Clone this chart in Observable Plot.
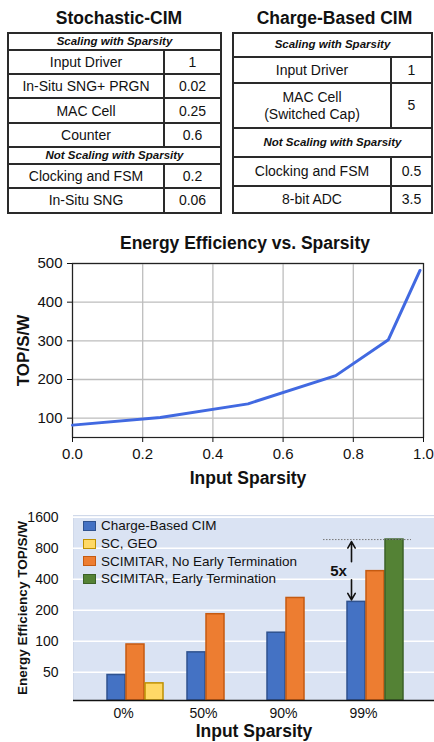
<!DOCTYPE html>
<html><head><meta charset="utf-8">
<script src="https://cdn.jsdelivr.net/npm/d3@7"></script>
<script src="https://cdn.jsdelivr.net/npm/@observablehq/plot@0.6"></script>
<style>
body{margin:0;background:#fff;font-family:"Liberation Sans",Arial,sans-serif;color:#111}
#page{position:relative;width:434px;height:742px;overflow:hidden;background:#fff}
.ttl{position:absolute;font-weight:bold;font-size:17.5px;transform:translate(-50%,-50%);white-space:nowrap}
.tbl{position:absolute;display:grid;background:#2a2a2a;padding:2px;gap:2px;box-sizing:border-box}
.tbl div{background:#fff;display:flex;align-items:center;justify-content:center;text-align:center;font-size:14px;line-height:1.15;white-space:pre-line}
.tbl div.h{grid-column:1 / span 2;font-weight:bold;font-style:italic;font-size:11.5px}
.chart{position:absolute;left:0}
.chart svg{overflow:visible}
[aria-label="x-axis label"] text,[aria-label="y-axis label"] text{font-weight:bold}
.lc [aria-label="x-axis label"] text{font-size:17.5px}
.lc [aria-label="y-axis label"] text{font-size:17px}
.bc [aria-label="x-axis label"] text{font-size:17.5px}
.bc [aria-label="y-axis label"] text{font-size:13.5px}
#legend{position:absolute;left:83px;top:517px;font-size:13.5px}
#legend .row{display:flex;align-items:center;height:17.7px;white-space:nowrap}
#legend .sw{width:11px;height:8px;border:1.5px solid;margin-right:5px}
</style></head>
<body><div id="page"></div>
<script>
// ---- Tables ----
const stochScaling = [["Input Driver","1"],["In-Situ SNG+ PRGN","0.02"],["MAC Cell","0.25"],["Counter","0.6"]];
const stochFixed = [["Clocking and FSM","0.2"],["In-Situ SNG","0.06"]];
const chargeScaling = [["Input Driver","1"],["MAC Cell\n(Switched Cap)","5"]];
const chargeFixed = [["Clocking and FSM","0.5"],["8-bit ADC","3.5"]];
const scalingHeader = "Scaling with Sparsity";
const fixedHeader = "Not Scaling with Sparsity";

// ---- Line chart ----
const sparsity = [0, 0.25, 0.5, 0.75, 0.9, 0.99];
const topsPerW = [82, 102, 137, 210, 303, 482];
const lineXTicks = [0, 0.2, 0.4, 0.6, 0.8, 1.0];
const lineYTicks = [100, 200, 300, 400, 500];

// ---- Bar chart ----
const categories = ["0%", "50%", "90%", "99%"];
const chargeBased = [47, 78, 121, 241];
const scimitarNoET = [93, 183, 263, 479];
const scGeoCats = ["0%"];
const scGeo = [39];
const scimitarETCats = ["99%"];
const scimitarET = [970];
const barYTicks = [50, 100, 200, 400, 800, 1600];
const seriesNames = ["Charge-Based CIM", "SC, GEO", "SCIMITAR, No Early Termination", "SCIMITAR, Early Termination"];
const seriesFill = ["#4472c4", "#ffd966", "#ed7d31", "#548235"];
const seriesStroke = ["#2f528f", "#bf9000", "#c55a11", "#3b6127"];
const legendOrder = [0, 1, 2, 3];
const ratioLabel = "5x";

const page = document.getElementById("page");
function el(tag, cls, txt){const e=document.createElement(tag); if(cls) e.className=cls; if(txt!=null) e.textContent=txt; return e;}

function makeTable(left, top, width, cols, rows, scaling, fixed){
  const t = el("div","tbl");
  t.style.left = left+"px"; t.style.top = top+"px"; t.style.width = width+"px";
  t.style.gridTemplateColumns = cols;
  t.style.gridTemplateRows = rows;
  t.appendChild(el("div","h",scalingHeader));
  scaling.forEach(([a,b])=>{t.appendChild(el("div","",a)); t.appendChild(el("div","",b));});
  t.appendChild(el("div","h",fixedHeader));
  fixed.forEach(([a,b])=>{t.appendChild(el("div","",a)); t.appendChild(el("div","",b));});
  page.appendChild(t);
}
function title(txt, x, y){const d=el("div","ttl",txt); d.style.left=x+"px"; d.style.top=y+"px"; page.appendChild(d);}

title("Stochastic-CIM", 119, 17.5);
title("Charge-Based CIM", 334.5, 17.5);
makeTable(7, 32, 215, "154px 1fr", "14.7px 22.4px 22.4px 22.4px 22.4px 14.7px 22.4px 22.4px", stochScaling, stochFixed);
makeTable(232, 32, 201, "156px 1fr", "22px 24px 43px 27px 27px 25px", chargeScaling, chargeFixed);

title("Energy Efficiency vs. Sparsity", 245, 243);

const font = "Liberation Sans, Arial, sans-serif";
const lineData = sparsity.map((s,i)=>({s, v: topsPerW[i]}));
const lc = Plot.plot({
  width:434, height:240, marginTop:13, marginBottom:53, marginLeft:72, marginRight:11,
  style:{fontFamily:font, fontSize:"15px", color:"#111", background:"transparent"},
  x:{domain:[0,1], label:"Input Sparsity"},
  y:{domain:[50,500], label:"TOP/S/W"},
  marks:[
    Plot.gridX(lineXTicks,{stroke:"#bdbdbd", strokeOpacity:1, strokeWidth:1.3}),
    Plot.gridY(lineYTicks,{stroke:"#bdbdbd", strokeOpacity:1, strokeWidth:1.3}),
    Plot.frame({stroke:"#222", strokeWidth:1.2}),
    Plot.axisX(lineXTicks,{tickSize:5, tickPadding:6, tickFormat:d3.format(".1f"), label:"Input Sparsity", labelAnchor:"center", labelArrow:"none", labelOffset:46}),
    Plot.axisY(lineYTicks,{tickSize:5, tickPadding:5, tickFormat:d=>String(d), label:"TOP/S/W", labelAnchor:"center", labelArrow:"none", labelOffset:56}),
    Plot.line(lineData,{x:"s", y:"v", stroke:"#4169e1", strokeWidth:3})
  ]
});
const lw = el("div","chart lc"); lw.style.top="250px"; lw.appendChild(lc); page.appendChild(lw);

// bar chart
const yDomain = [26.6, 1661];
const blueData = categories.map((c,i)=>({c, v: chargeBased[i]}));
const orangeData = categories.map((c,i)=>({c, v: scimitarNoET[i]}));
const yellowData = scGeoCats.map((c,i)=>({c, v: scGeo[i]}));
const greenData = scimitarETCats.map((c,i)=>({c, v: scimitarET[i]}));
const lastBlue = blueData.find(d=>d.c==="99%").v;
const lastGreen = greenData[0].v;
const mid = Math.sqrt(lastBlue*lastGreen);
const barOpts = (i, dx)=>({x:"c", y1:yDomain[0], y2:"v", fill:seriesFill[i], stroke:seriesStroke[i], strokeWidth:1.5, insetLeft:31, insetRight:31, dx});
const bc = Plot.plot({
  width:434, height:237, marginTop:10, marginBottom:42, marginLeft:73, marginRight:0,
  style:{fontFamily:font, fontSize:"14px", color:"#111", background:"transparent"},
  x:{domain:categories, insetLeft:10, insetRight:31, padding:0, label:"Input Sparsity"},
  y:{type:"log", base:2, domain:yDomain, label:"Energy Efficiency TOP/S/W"},
  marks:[
    Plot.frame({fill:"#dae3f3", stroke:"#d0d9ea"}),
    Plot.gridY(barYTicks,{stroke:"#fff", strokeOpacity:1, strokeWidth:1.6}),
    Plot.barY(blueData, barOpts(0, -7)),
    Plot.barY(orangeData, barOpts(2, 12)),
    Plot.barY(yellowData, barOpts(1, 31)),
    Plot.barY(greenData, barOpts(3, 31)),
    Plot.ruleY([yDomain[0]],{stroke:"#111", strokeWidth:1.5}),
    Plot.tickY(greenData,{x:"c", y:"v", stroke:"#777", strokeWidth:1, strokeDasharray:"1.5,1.5", insetRight:-8}),
    Plot.arrow([{c:"99%", a:mid, b:lastGreen},{c:"99%", a:mid, b:lastBlue}],{x1:"c", x2:"c", y1:"a", y2:"b", dx:-12, stroke:"#111", strokeWidth:1.6, headLength:7, insetStart:9, insetEnd:2}),
    Plot.text([{c:"99%", v:mid}],{x:"c", y:"v", text:()=>ratioLabel, dx:-25, fontWeight:"bold", fontSize:15}),
    Plot.axisX({tickSize:0, tickPadding:8, label:"Input Sparsity", labelAnchor:"center", labelArrow:"none", labelOffset:36}),
    Plot.axisY(barYTicks,{tickSize:0, tickPadding:15, tickFormat:d=>String(d), label:"Energy Efficiency TOP/S/W", labelAnchor:"center", labelArrow:"none", labelOffset:56})
  ]
});
const bw = el("div","chart bc"); bw.style.top="505px"; bw.appendChild(bc); page.appendChild(bw);

// legend
const lg = el("div"); lg.id="legend";
legendOrder.forEach(i=>{
  const r = el("div","row");
  const s = el("span","sw"); s.style.background=seriesFill[i]; s.style.borderColor=seriesStroke[i];
  r.appendChild(s); r.appendChild(el("span","",seriesNames[i]));
  lg.appendChild(r);
});
page.appendChild(lg);
</script></body></html>
